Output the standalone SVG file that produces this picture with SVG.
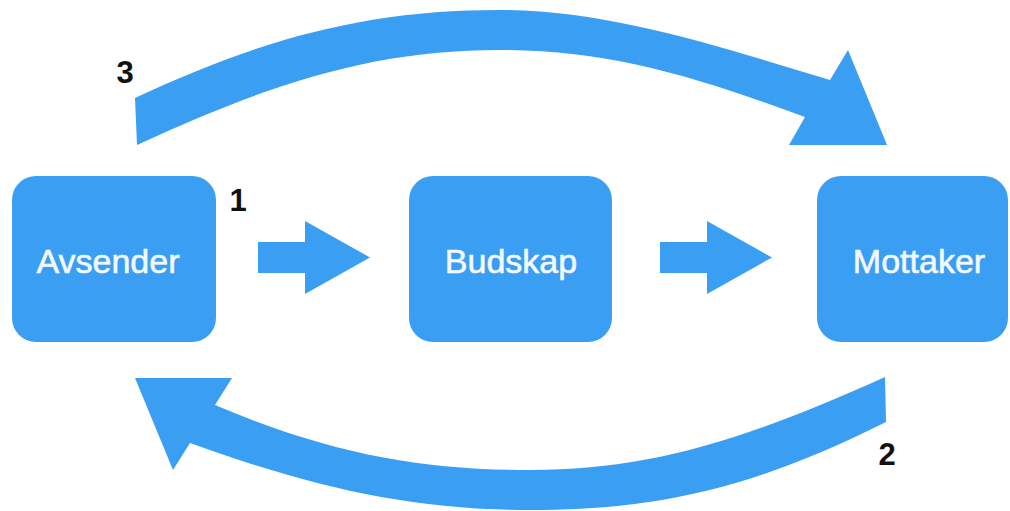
<svg xmlns="http://www.w3.org/2000/svg" width="1010" height="511" viewBox="0 0 1010 511">
  <style>
    .box { fill: #3a9ff2; }
    .flow { fill: #3a9ff2; }
    .label { font-family: "Liberation Sans", Arial, sans-serif; font-size: 34px; fill: #f4f9ff; stroke: #f4f9ff; stroke-width: 0.6px; text-anchor: middle; }
    .step { font-family: "Liberation Sans", Arial, sans-serif; font-size: 31px; font-weight: bold; fill: #111111; text-anchor: middle; }
  </style>
  <rect width="1010" height="511" fill="#ffffff"/>

  <g id="avsender">
    <rect class="box" x="12" y="176" width="204" height="166" rx="24" ry="24"/>
    <text class="label" x="108" y="273">Avsender</text>
  </g>

  <g id="budskap">
    <rect class="box" x="409" y="176" width="203" height="166" rx="24" ry="24"/>
    <text class="label" x="511" y="273">Budskap</text>
  </g>

  <g id="mottaker">
    <rect class="box" x="817" y="176" width="191" height="166" rx="24" ry="24"/>
    <text class="label" x="919" y="273">Mottaker</text>
  </g>

  <g id="connectors">
    <!-- Avsender to Budskap -->
    <path class="flow" d="M258,242 H305 V221 L370,257.5 L305,294 V273 H258 Z"/>
    <!-- Budskap to Mottaker -->
    <path class="flow" d="M660,242 H707 V221 L772,257.5 L707,294 V273 H660 Z"/>
    <!-- Upper arc: Avsender over to Mottaker -->
    <path class="flow" d="M135,98 C265,37 370,10 500,10 C610,10 720,47 830,80 L848,50 L887,145 L789,145 L805,117 C693,76 610,50 500,50 C370,50 267,85 137,145 Z"/>
    <!-- Lower arc: Mottaker back to Avsender -->
    <path class="flow" d="M885,377 C745,440 650,470 530,470 C420,470 328,453 215,405 L232,378 L135,378 L173,470 L190,443 C312,487 410,510 530,510 C660,510 756,487 886,422 Z"/>
  </g>

  <g id="steps">
    <text class="step" x="125" y="83">3</text>
    <text class="step" x="238" y="211">1</text>
    <text class="step" x="887" y="465">2</text>
  </g>
</svg>
